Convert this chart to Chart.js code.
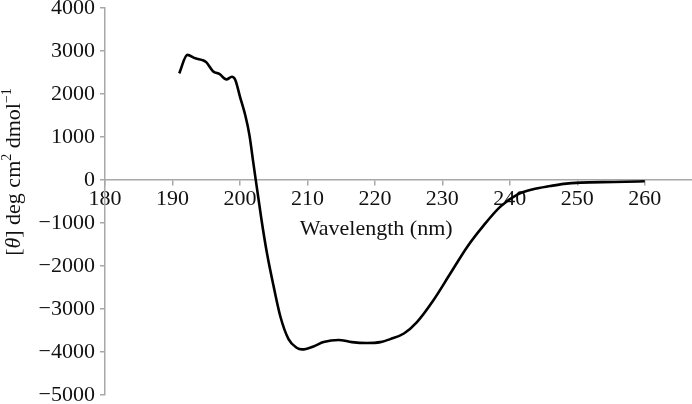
<!DOCTYPE html>
<html lang="en">

<head>
    <meta charset="utf-8">
    <title>CD Spectrum</title>
    <script src="https://cdn.jsdelivr.net/npm/chart.js"></script>
    <style>
        body {
            margin: 0;
            background: #fff;
        }

        #wrap {
            width: 692px;
            height: 404px;
        }
    </style>
</head>

<body>
    <div id="wrap"><canvas id="cdChart"></canvas></div>

    <script>
        // wavelengths (nm) and mean residue ellipticity
        const wavelength = [
            191.0, 192.2, 193.4, 194.6, 195.0, 196.0, 197.0, 198.0, 198.8, 199.3,
            200.0, 200.8, 201.4, 202.0, 203.2, 204.0, 205.0, 206.0, 207.2, 208.4,
            209.2, 210.9, 212.4, 214.6, 216.6, 218.8, 220.8, 222.3, 224.3, 226.2,
            228.7, 231.2, 233.7, 236.1, 238.6, 241.1, 243.6, 246.0, 248.0, 250.5,
            255.4, 260.0
        ];
        const theta = [
            2480, 2910, 2830, 2780, 2740, 2530, 2460, 2340, 2400, 2330,
            1940, 1500, 1050, 380, -930, -1700, -2480, -3180, -3700, -3900,
            -3940, -3870, -3770, -3720, -3770, -3790, -3770, -3700, -3570, -3310,
            -2790, -2170, -1550, -1060, -620, -340, -210, -140, -90, -60,
            -45, -30
        ];
        const xTicks = [180, 190, 200, 210, 220, 230, 240, 250, 260];
        const yTicks = [-5000, -4000, -3000, -2000, -1000, 0, 1000, 2000, 3000, 4000];

        const serif = "'Liberation Serif', 'Times New Roman', serif";
        const axisGrey = '#a8a8a8';

        // axis titles drawn by hand so the theta can be italic with superscripts
        const axisTitles = {
            id: 'axisTitles',
            afterDraw(chart) {
                const c = chart.ctx;
                const xs = chart.scales.x;
                c.save();
                c.fillStyle = '#111';
                c.font = '22px ' + serif;
                c.textAlign = 'center';
                c.textBaseline = 'alphabetic';
                c.fillText('Wavelength (nm)', xs.getPixelForValue(220.2), 235);

                // y title, rotated
                const parts = [
                    { t: '[', f: '22px ' + serif, dy: 0 },
                    { t: '\u03B8', f: 'italic 22px ' + serif, dy: 0 },
                    { t: '] deg cm', f: '22px ' + serif, dy: 0 },
                    { t: '2', f: '14px ' + serif, dy: -9 },
                    { t: ' dmol', f: '22px ' + serif, dy: 0 },
                    { t: '\u22121', f: '14px ' + serif, dy: -9 }
                ];
                let total = 0;
                parts.forEach(p => { c.font = p.f; p.w = c.measureText(p.t).width; total += p.w; });
                c.translate(20, 172);
                c.rotate(-Math.PI / 2);
                c.textAlign = 'left';
                let x = -total / 2;
                parts.forEach(p => {
                    c.font = p.f;
                    c.fillText(p.t, x, p.dy);
                    x += p.w;
                });
                c.restore();
            }
        };

        const points = wavelength.map((w, i) => ({ x: w, y: theta[i] }));

        const noPad = s => { s.paddingTop = 0; s.paddingBottom = 0; s.paddingLeft = 0; s.paddingRight = 0; };

        const config = {
            type: 'line',
            data: {
                datasets: [{
                    data: points,
                    borderColor: '#000',
                    borderWidth: 2.6,
                    pointRadius: 0,
                    fill: false,
                    cubicInterpolationMode: 'monotone'
                }]
            },
            options: {
                responsive: true,
                maintainAspectRatio: false,
                animation: false,
                layout: {
                    padding: { top: 8, bottom: 9, left: 0, right: 0 }
                },
                scales: {
                    x: {
                        type: 'linear',
                        position: { y: 0 },
                        min: 180,
                        max: 267,
                        afterBuildTicks: s => { s.ticks = xTicks.map(v => ({ value: v })); },
                        afterFit: noPad,
                        ticks: {
                            font: { family: serif, size: 22 },
                            color: '#111',
                            padding: 1,
                            callback: v => String(v)
                        },
                        grid: { drawOnChartArea: false, tickLength: 5, color: axisGrey, lineWidth: 1.5 },
                        border: { color: axisGrey, width: 1.5 }
                    },
                    y: {
                        min: -5000,
                        max: 4000,
                        afterBuildTicks: s => { s.ticks = yTicks.map(v => ({ value: v })); },
                        afterFit: s => { noPad(s); s.width = 105; },
                        ticks: {
                            font: { family: serif, size: 22 },
                            color: '#111',
                            padding: 5,
                            callback: v => (v < 0 ? '\u2212' + Math.abs(v) : String(v))
                        },
                        grid: { drawOnChartArea: false, tickLength: 5, color: axisGrey, lineWidth: 1.5 },
                        border: { color: axisGrey, width: 1.5 }
                    }
                },
                plugins: {
                    legend: { display: false },
                    tooltip: { enabled: false }
                }
            },
            plugins: [axisTitles]
        };

        new Chart(document.getElementById('cdChart'), config);
    </script>
</body>

</html>
